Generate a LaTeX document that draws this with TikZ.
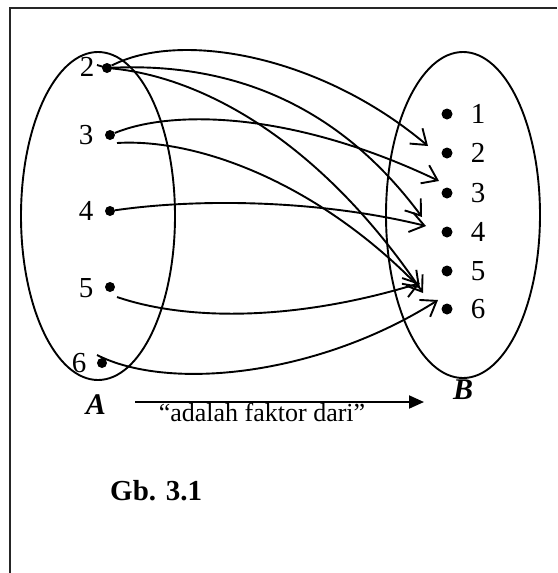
\documentclass[tikz,border=0pt]{standalone}
\usepackage{fontspec}
\setmainfont{Liberation Serif}
\usetikzlibrary{arrows.meta,shapes.geometric}
\begin{document}
\begin{tikzpicture}[x=1pt,y=-1pt,
  dota/.style={circle,fill=black,inner sep=0pt,minimum size=10pt},
  dotb/.style={circle,fill=black,inner sep=0pt,minimum size=11pt},
  num/.style={font=\fontsize{29}{30}\selectfont,inner sep=0pt},
  setname/.style={font=\fontsize{30}{32}\selectfont\bfseries\itshape,inner sep=0pt},
  setshape/.style={draw,ellipse,line width=1.9pt,inner sep=0pt},
  link/.style={line width=1.9pt,-{Straight Barb[length=14pt,width=20pt]}},
  frameline/.style={line width=2pt,draw=black!85}]
\useasboundingbox (0,0) rectangle (557,573);
\draw[frameline] (10,573) -- (10,8) -- (557,8);
% sets
\node[setshape,minimum width=154pt,minimum height=328pt] (setA) at (98,216) {};
\node[setshape,minimum width=154pt,minimum height=326pt] (setB) at (463,215) {};
% elements of A
\node[dota] (a2) at (107,68) {};
\node[dota] (a3) at (110,135) {};
\node[dota] (a4) at (110,211) {};
\node[dota] (a5) at (110,287) {};
\node[dota] (a6) at (102,363) {};
\node[num] (la2) at (87,67) {2};
\node[num] (la3) at (86,135) {3};
\node[num] (la4) at (86,211) {4};
\node[num] (la5) at (86,288) {5};
\node[num] (la6) at (79,363) {6};
% elements of B
\node[dotb] (b1) at (447,114) {};
\node[dotb] (b2) at (447,153) {};
\node[dotb] (b3) at (447,193) {};
\node[dotb] (b4) at (447,232) {};
\node[dotb] (b5) at (447,271) {};
\node[dotb] (b6) at (447,309) {};
\node[num] (lb1) at (478,114) {1};
\node[num] (lb2) at (478,153) {2};
\node[num] (lb3) at (478,193) {3};
\node[num] (lb4) at (478,232) {4};
\node[num] (lb5) at (478,271) {5};
\node[num] (lb6) at (478,309) {6};
% start / tip coordinates
\coordinate (s2l) at (97,65);
\coordinate (s6l) at (97,355);
\coordinate (t2) at (428,146);
\coordinate (t3) at (439,181);
\coordinate (t4a) at (422,217);
\coordinate (t4b) at (426,226);
\coordinate (t6a) at (423,293);
\coordinate (t6b) at (420,288);
\coordinate (t5) at (420,283);
\coordinate (t6c) at (438,300);
% connectors
\draw[link] (a2) .. controls (180,30) and (320,55) .. (t2);
\draw[link] (s2l) -- (a2.center) .. controls (250,60) and (350,120) .. (t4a);
\draw[link] (a2.center) .. controls (200,75) and (320,140) .. (t6a);
\draw[link] (a3) .. controls (170,110) and (290,110) .. (t3);
\draw[link] (117,143) .. controls (200,138) and (320,185) .. (t6b);
\draw[link] (a4) .. controls (200,198) and (320,200) .. (t4b);
\draw[link] (117,297) .. controls (190,322) and (300,320) .. (t5);
\draw[link] (s6l) .. controls (170,392) and (320,375) .. (t6c);
% set names and relation
\node[setname] (nA) at (96,405) {A};
\node[setname] (nB) at (463,390) {B};
\coordinate (r1) at (135,402);
\coordinate (r2) at (424,402);
\draw[line width=1.9pt,-{Triangle[length=15pt,width=13pt]}] (r1) -- (r2);
\node[font=\fontsize{26}{30}\selectfont,inner sep=0pt,anchor=base] (rel) at (262,421) {“adalah faktor dari”};
\node[font=\fontsize{29}{32}\selectfont\bfseries,inner sep=0pt,anchor=base west] (cap) at (110,500) {Gb. 3.1};
\end{tikzpicture}
\end{document}
